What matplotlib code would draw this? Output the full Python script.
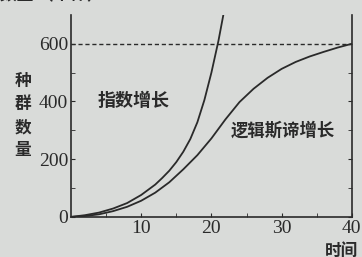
import matplotlib
matplotlib.use("Agg")
import matplotlib.pyplot as plt
import numpy as np

# data
exp_t = [0, 2, 4, 6, 8, 10, 12, 13, 14, 15, 16, 17, 18, 19, 20, 21, 21.7]
exp_n = [0, 6, 15, 29, 48, 76, 112, 135, 160, 190, 226, 270, 328, 405, 500, 610, 700]
log_t = [0, 2, 4, 6, 8, 10, 12, 14, 16, 18, 20, 22, 24, 26, 28, 30, 32, 34, 36, 38, 40]
log_n = [0, 3, 9, 20, 35, 56, 84, 120, 165, 214, 272, 338, 398, 444, 482, 513, 537, 556, 572, 587, 600]
K = 600
xticks = [10, 20, 30, 40]
yticks = [0, 200, 400, 600]

bg = "#d9dbd9"
ink = "#2a2a2a"
cjk = ["Noto Sans CJK SC", "DejaVu Sans"]

fig = plt.figure(figsize=(3.62, 2.57), dpi=100, facecolor=bg)
ax = fig.add_axes([0.196, 0.156, 0.776, 0.786])
ax.set_facecolor(bg)

ax.plot(exp_t, exp_n, color=ink, lw=1.3)
ax.plot(log_t, log_n, color=ink, lw=1.3)
ax.axhline(K, color=ink, lw=1.0, ls=(0, (3, 2)))

ax.set_xlim(0, 40)
ax.set_ylim(0, 700)
ax.spines["top"].set_visible(False)
for s in ["left", "bottom", "right"]:
    ax.spines[s].set_color(ink)
    ax.spines[s].set_linewidth(1.2)

ax.set_xticks(xticks)
ax.set_yticks(yticks)
ax.set_xticks(np.arange(5, 40, 5), minor=True)
ax.set_yticks(np.arange(100, 700, 100), minor=True)
ax.tick_params(axis="both", which="both", direction="in", length=3, color=ink,
               right=True, labelright=False)
ax.tick_params(axis="both", which="major", labelsize=14, labelcolor=ink, pad=2)
for lab in ax.get_xticklabels() + ax.get_yticklabels():
    lab.set_family("Liberation Serif")

fig.text(0.27, 0.61, "指数增长", family=cjk,
         fontsize=13, fontweight="bold", color=ink, ha="left", va="center")
fig.text(0.638, 0.49, "逻辑斯谛增长", family=cjk,
         fontsize=12.5, fontweight="bold", color=ink, ha="left", va="center")

for i, ch in enumerate("种群数量"):
    fig.text(0.063, 0.685 - i * 0.09, ch, family=cjk, fontsize=12,
             fontweight="bold", color=ink, ha="center", va="center")

fig.text(0.898, 0.058, "时间", family=cjk, fontsize=12, fontweight="bold",
         color=ink, ha="left", va="top")
fig.text(0.0, 0.985, "数量 （个体）", family=cjk, fontsize=12,
         fontweight="bold", color=ink, ha="left", va="bottom")

fig.savefig("out.png", dpi=100, facecolor=bg)
